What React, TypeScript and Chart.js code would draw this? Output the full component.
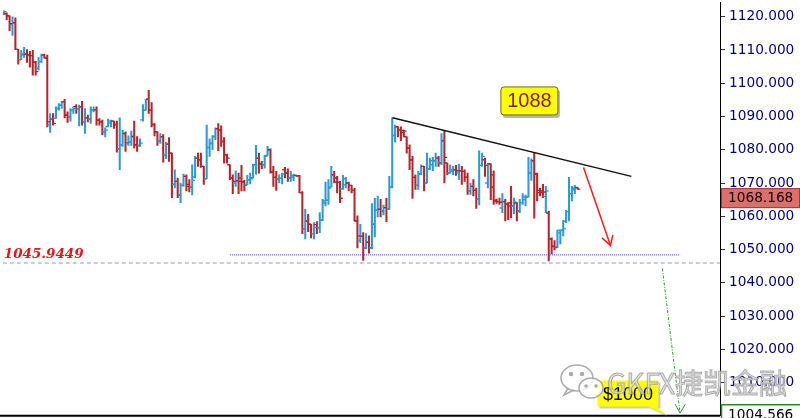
import React, { useEffect, useRef } from "react";
import { Chart, registerables } from "chart.js";

Chart.register(...registerables);

// ---- OHLC data (one bar per period) ----
const OPEN = [
  1120.9, 1120.9, 1120.3, 1117.6, 1118.2, 1110.2, 1107.1, 1108.5, 1108.8, 1108.5,
  1108.3, 1106.3, 1104.5, 1106.5, 1108.5, 1107.6, 1087.5, 1089.2, 1089.5, 1092.4,
  1093.4, 1094.4, 1090.4, 1089.9, 1091.9, 1093.0, 1092.2, 1092.9, 1088.4, 1089.6,
  1089.2, 1091.9, 1092.0, 1088.9, 1088.4, 1085.4, 1087.0, 1088.0, 1088.6, 1087.6,
  1080.3, 1081.5, 1084.9, 1081.8, 1082.3, 1084.0, 1081.5, 1081.3, 1089.0, 1091.9,
  1095.2, 1091.9, 1087.6, 1085.4, 1082.7, 1083.9, 1078.5, 1081.7, 1079.0, 1069.6,
  1070.5, 1066.4, 1069.3, 1072.0, 1069.6, 1068.9, 1071.8, 1077.5, 1077.0, 1075.0,
  1071.3, 1080.7, 1081.9, 1084.0, 1086.3, 1085.9, 1082.5, 1078.5, 1075.5, 1071.5,
  1070.0, 1070.7, 1071.5, 1070.3, 1069.5, 1071.0, 1071.6, 1075.5, 1077.5, 1075.7,
  1075.5, 1078.3, 1080.0, 1073.3, 1071.7, 1071.2, 1071.4, 1074.0, 1073.0, 1071.5,
  1071.8, 1072.3, 1072.2, 1067.1, 1056.1, 1058.6, 1057.6, 1054.8, 1057.5, 1056.6,
  1058.8, 1064.0, 1064.8, 1068.8, 1072.5, 1071.5, 1070.2, 1068.3, 1069.5, 1070.0,
  1069.3, 1067.8, 1058.6, 1052.8, 1054.0, 1050.5, 1052.2, 1050.5, 1057.6, 1061.8,
  1062.1, 1061.6, 1062.6, 1062.1, 1068.8, 1084.3, 1086.9, 1085.9, 1085.8, 1083.9,
  1080.5, 1077.0, 1071.7, 1069.3, 1072.7, 1075.0, 1070.0, 1074.3, 1075.5, 1076.7,
  1077.5, 1076.0, 1082.7, 1076.0, 1073.0, 1073.5, 1074.0, 1073.0, 1073.7, 1073.5,
  1071.7, 1067.6, 1069.0, 1067.8, 1065.1, 1075.3, 1077.0, 1070.0, 1075.7, 1072.5,
  1064.6, 1064.4, 1062.5, 1064.4, 1063.6, 1064.0, 1063.0, 1064.0, 1061.6, 1064.1,
  1065.0, 1065.8, 1073.0, 1076.7, 1072.7, 1067.8, 1067.6, 1066.0, 1061.0, 1053.2,
  1051.0, 1050.8, 1055.0, 1055.8, 1058.5, 1061.4, 1066.8, 1068.0, 1068.6,
];
const HIGH = [
  1121.8, 1121.2, 1120.3, 1120.0, 1119.7, 1110.2, 1109.9, 1110.8, 1110.1, 1109.6,
  1109.9, 1106.6, 1107.8, 1108.8, 1108.8, 1108.5, 1090.9, 1090.9, 1092.9, 1093.9,
  1094.6, 1095.2, 1091.4, 1092.4, 1092.9, 1093.6, 1093.4, 1094.6, 1092.4, 1090.4,
  1092.9, 1092.9, 1092.9, 1089.4, 1088.9, 1086.6, 1089.2, 1088.9, 1088.6, 1088.6,
  1089.6, 1085.9, 1085.4, 1084.2, 1085.6, 1088.6, 1084.0, 1083.3, 1093.6, 1095.2,
  1097.9, 1094.2, 1087.9, 1085.4, 1084.9, 1084.6, 1082.3, 1083.7, 1079.0, 1074.0,
  1071.5, 1070.0, 1072.7, 1072.5, 1071.0, 1075.5, 1078.0, 1079.0, 1079.0, 1075.0,
  1087.4, 1083.3, 1084.3, 1086.6, 1087.9, 1087.2, 1083.7, 1078.7, 1075.5, 1072.5,
  1073.7, 1073.0, 1075.3, 1070.8, 1072.3, 1073.0, 1075.7, 1081.3, 1079.0, 1076.5,
  1078.3, 1081.0, 1080.3, 1075.0, 1073.5, 1072.5, 1073.0, 1074.7, 1074.3, 1073.5,
  1072.7, 1072.3, 1072.3, 1067.4, 1062.1, 1060.6, 1057.6, 1058.1, 1058.4, 1061.1,
  1065.1, 1070.3, 1071.0, 1075.0, 1073.5, 1072.0, 1070.5, 1072.3, 1071.7, 1070.3,
  1069.3, 1068.4, 1060.1, 1057.6, 1055.1, 1054.8, 1054.1, 1063.8, 1065.4, 1066.1,
  1065.1, 1063.4, 1065.4, 1072.0, 1089.6, 1087.4, 1086.9, 1086.9, 1085.9, 1083.9,
  1081.5, 1078.0, 1072.5, 1073.5, 1075.5, 1075.0, 1079.0, 1077.5, 1077.7, 1079.0,
  1078.0, 1084.9, 1085.6, 1076.0, 1075.5, 1075.0, 1075.3, 1075.7, 1075.0, 1074.0,
  1073.0, 1070.0, 1071.0, 1068.5, 1079.7, 1079.0, 1077.5, 1076.0, 1075.8, 1073.7,
  1065.2, 1065.5, 1066.8, 1065.1, 1064.1, 1069.0, 1065.5, 1064.1, 1065.1, 1066.8,
  1066.4, 1077.7, 1077.3, 1078.9, 1073.0, 1068.5, 1069.6, 1069.0, 1061.6, 1053.5,
  1052.7, 1055.8, 1055.8, 1058.8, 1061.8, 1071.7, 1069.0, 1069.3, 1068.6,
];
const LOW = [
  1120.6, 1119.1, 1115.8, 1114.4, 1110.1, 1105.7, 1107.1, 1107.8, 1106.3, 1104.8,
  1102.4, 1102.4, 1103.9, 1106.3, 1107.6, 1086.9, 1085.2, 1087.4, 1089.4, 1091.9,
  1092.4, 1089.6, 1088.2, 1088.6, 1090.9, 1090.9, 1087.2, 1087.4, 1084.9, 1088.4,
  1087.9, 1091.4, 1087.4, 1087.4, 1084.5, 1083.9, 1086.9, 1086.9, 1086.4, 1079.3,
  1074.0, 1081.0, 1079.5, 1081.3, 1081.3, 1080.5, 1079.5, 1081.0, 1088.6, 1091.9,
  1090.9, 1086.9, 1084.2, 1081.3, 1081.9, 1076.3, 1077.3, 1076.5, 1065.6, 1068.5,
  1065.6, 1064.1, 1069.0, 1067.6, 1067.3, 1066.4, 1071.5, 1075.0, 1074.7, 1069.6,
  1071.3, 1078.0, 1080.0, 1083.0, 1079.7, 1081.0, 1076.0, 1076.0, 1071.0, 1066.8,
  1069.0, 1066.8, 1067.6, 1067.6, 1069.5, 1069.7, 1071.5, 1072.7, 1073.0, 1074.3,
  1074.5, 1078.3, 1073.0, 1069.0, 1067.8, 1070.0, 1069.7, 1071.5, 1070.5, 1070.5,
  1070.7, 1072.0, 1067.1, 1054.8, 1053.2, 1055.4, 1053.5, 1053.2, 1054.8, 1055.1,
  1058.6, 1063.1, 1063.6, 1068.8, 1070.0, 1067.0, 1064.1, 1068.1, 1068.5, 1067.6,
  1067.0, 1058.6, 1050.5, 1052.1, 1046.7, 1050.2, 1048.9, 1050.2, 1053.8, 1059.8,
  1059.8, 1060.4, 1058.4, 1062.1, 1068.5, 1082.3, 1083.9, 1082.7, 1083.9, 1079.0,
  1074.0, 1065.4, 1068.1, 1068.1, 1072.5, 1067.6, 1070.0, 1074.0, 1073.7, 1075.0,
  1075.0, 1075.5, 1070.0, 1072.5, 1073.0, 1072.5, 1072.3, 1071.0, 1069.6, 1070.5,
  1066.6, 1066.6, 1066.1, 1062.4, 1063.4, 1075.0, 1072.0, 1068.5, 1065.0, 1063.6,
  1063.9, 1063.6, 1061.1, 1058.6, 1059.0, 1059.5, 1060.7, 1058.6, 1061.1, 1063.6,
  1063.1, 1065.8, 1070.8, 1059.4, 1064.6, 1066.1, 1065.6, 1061.1, 1046.6, 1048.7,
  1049.9, 1050.6, 1051.7, 1054.1, 1058.1, 1058.6, 1064.6, 1066.8, 1068.1,
];
const CLOSE = [
  1121.5, 1120.3, 1117.9, 1118.2, 1110.2, 1107.1, 1108.8, 1108.8, 1108.5, 1108.3,
  1106.3, 1103.5, 1106.5, 1108.5, 1107.6, 1088.4, 1089.2, 1087.9, 1092.4, 1093.4,
  1094.4, 1090.4, 1089.9, 1091.9, 1092.4, 1092.2, 1092.9, 1088.4, 1089.6, 1089.2,
  1091.9, 1092.0, 1088.9, 1088.4, 1085.4, 1085.9, 1088.6, 1088.6, 1087.6, 1080.3,
  1081.5, 1084.9, 1082.0, 1082.3, 1084.0, 1081.5, 1081.3, 1082.0, 1091.9, 1095.2,
  1091.9, 1087.6, 1085.4, 1082.7, 1083.9, 1078.5, 1081.7, 1079.0, 1069.6, 1070.5,
  1066.4, 1069.3, 1072.0, 1069.0, 1068.9, 1070.8, 1077.5, 1077.0, 1075.0, 1071.3,
  1080.7, 1081.9, 1084.0, 1086.3, 1085.9, 1082.5, 1078.5, 1077.5, 1071.5, 1070.5,
  1070.7, 1070.5, 1070.3, 1069.3, 1071.0, 1071.3, 1075.5, 1077.5, 1075.7, 1075.5,
  1078.0, 1080.0, 1073.3, 1071.7, 1071.3, 1071.4, 1072.7, 1073.0, 1071.5, 1072.3,
  1072.3, 1072.2, 1067.1, 1056.1, 1058.6, 1057.6, 1054.8, 1056.6, 1056.6, 1058.8,
  1064.6, 1064.8, 1068.5, 1072.5, 1070.3, 1070.2, 1065.4, 1071.3, 1070.0, 1069.3,
  1067.8, 1058.6, 1054.1, 1054.0, 1050.5, 1052.2, 1050.5, 1057.6, 1061.8, 1062.1,
  1061.6, 1062.6, 1062.1, 1068.8, 1084.3, 1086.9, 1085.9, 1085.2, 1085.6, 1080.5,
  1077.0, 1071.7, 1069.3, 1072.7, 1075.0, 1070.0, 1074.3, 1076.7, 1076.7, 1077.5,
  1076.0, 1082.7, 1077.7, 1073.0, 1074.0, 1074.0, 1073.7, 1073.7, 1073.5, 1071.7,
  1067.6, 1069.0, 1067.8, 1065.1, 1075.3, 1078.0, 1075.3, 1075.7, 1068.8, 1064.8,
  1064.4, 1064.2, 1064.4, 1063.6, 1063.1, 1063.0, 1064.3, 1061.6, 1064.1, 1065.8,
  1065.8, 1073.0, 1076.7, 1072.7, 1067.1, 1067.1, 1067.3, 1067.6, 1053.2, 1050.9,
  1050.6, 1055.8, 1055.8, 1056.2, 1061.4, 1066.8, 1068.5, 1068.7, 1068.168,
];

// ---- axis ----
const Y_TICKS = [1010, 1020, 1030, 1040, 1050, 1060, 1070, 1080, 1090, 1100, 1110, 1120];
const Y_RANGE = [1000.19, 1124.19];
const X_RANGE = [-0.34, 247.08];

// ---- price labels / annotations (in data units) ----
const LAST_PRICE = 1068.168;
const BOTTOM_PRICE = 1004.566;
const LEVEL_PRICE = 1045.9449;
const SUPPORT_PRICE = 1048.4;
const SUPPORT_SPAN = [78, 233.3];
const TREND_X = [134.1, 216.5];
const TREND_Y = [1089.6, 1072.0];
const RED_ARROW_X = [200, 209.3];
const RED_ARROW_Y = [1074.7, 1051.2];
const RED_HEAD_X = [206.4, 209.3, 210.1];
const RED_HEAD_Y = [1053.5, 1051.2, 1054.4];
const GREEN_ARROW_X = [227.2, 233.3];
const GREEN_ARROW_Y = [1044.3, 1000.8];
const GREEN_HEAD_X = [231.6, 233.3, 235.1];
const GREEN_HEAD_Y = [1003.5, 1000.8, 1003.5];
const NOTE_1088 = { text: "1088", x: 171.5, y: 1098.9 };
const NOTE_1000 = { text: "$1000", x: 204.8, y: 1010.6 };
const WATERMARK = "GKFX捷凯金融";

const BLUE = "#2e9ad3";
const RED = "#b3262c";
const COLORS = CLOSE.map((c, i) => (c >= OPEN[i] ? BLUE : RED));

const pts = (xs: number[], ys: number[]) => xs.map((x, i) => ({ x, y: ys[i] }));

function roundRect(ctx: CanvasRenderingContext2D, x: number, y: number, w: number, h: number, r: number) {
  ctx.beginPath();
  ctx.moveTo(x + r, y);
  ctx.lineTo(x + w - r, y);
  ctx.quadraticCurveTo(x + w, y, x + w, y + r);
  ctx.lineTo(x + w, y + h - r);
  ctx.quadraticCurveTo(x + w, y + h, x + w - r, y + h);
  ctx.lineTo(x + r, y + h);
  ctx.quadraticCurveTo(x, y + h, x, y + h - r);
  ctx.lineTo(x, y + r);
  ctx.quadraticCurveTo(x, y, x + r, y);
  ctx.closePath();
}

const overlayPlugin = {
  id: "overlay",
  afterDraw(chart: any) {
    const { ctx, chartArea, scales } = chart;
    const xs = scales.x;
    const ys = scales.y;
    ctx.save();

    // bottom frame line
    ctx.strokeStyle = "#000";
    ctx.lineWidth = 2;
    ctx.beginPath();
    ctx.moveTo(0, chartArea.bottom + 0.5);
    ctx.lineTo(chartArea.right, chartArea.bottom + 0.5);
    ctx.stroke();

    // level label
    ctx.font = 'italic bold 13.5px "DejaVu Serif"';
    ctx.fillStyle = "#e8141c";
    ctx.textAlign = "left";
    ctx.textBaseline = "alphabetic";
    ctx.fillText(LEVEL_PRICE.toFixed(4), chartArea.left + 1, ys.getPixelForValue(LEVEL_PRICE) - 5);

    // "1088" note
    {
      const bx = xs.getPixelForValue(NOTE_1088.x);
      const by = ys.getPixelForValue(NOTE_1088.y);
      const w = 57, h = 28;
      ctx.fillStyle = "rgba(120,120,120,0.55)";
      roundRect(ctx, bx + 2, by + 3, w, h, 3);
      ctx.fill();
      ctx.fillStyle = "#ffff00";
      ctx.strokeStyle = "#6e6a00";
      ctx.lineWidth = 1;
      roundRect(ctx, bx, by, w, h, 3);
      ctx.fill();
      ctx.stroke();
      ctx.font = '20px "Liberation Sans"';
      ctx.fillStyle = "#8a1410";
      ctx.textAlign = "center";
      ctx.textBaseline = "middle";
      ctx.fillText(NOTE_1088.text, bx + w / 2, by + h / 2 + 1);
    }

    // "$1000" callout
    {
      const bx = xs.getPixelForValue(NOTE_1000.x);
      const by = ys.getPixelForValue(NOTE_1000.y);
      const w = 61, h = 26;
      const shape = (ox: number, oy: number) => {
        ctx.beginPath();
        ctx.moveTo(bx + ox, by + oy);
        ctx.lineTo(bx + w + ox, by + oy);
        ctx.lineTo(bx + w + ox, by + h + oy);
        ctx.lineTo(bx + w - 2 + ox, by + h + oy);
        ctx.lineTo(bx + w + 7 + ox, by + h + 8 + oy);
        ctx.lineTo(bx + w - 10 + ox, by + h + oy);
        ctx.lineTo(bx + ox, by + h + oy);
        ctx.closePath();
      };
      ctx.fillStyle = "rgba(150,150,150,0.5)";
      shape(2, 2);
      ctx.fill();
      ctx.fillStyle = "#ffff00";
      shape(0, 0);
      ctx.fill();
      ctx.font = '18px "Liberation Sans"';
      ctx.fillStyle = "#000";
      ctx.textAlign = "center";
      ctx.textBaseline = "middle";
      ctx.fillText(NOTE_1000.text, bx + w / 2, by + h / 2 + 1);
    }

    // current price label on the axis
    {
      const top = ys.getPixelForValue(LAST_PRICE) - 1;
      const left = chartArea.right + 1;
      ctx.fillStyle = "#d8706e";
      ctx.fillRect(left, top, 79, 20);
      ctx.strokeStyle = "#a83434";
      ctx.lineWidth = 1;
      ctx.strokeRect(left + 0.5, top + 0.5, 78, 19);
      ctx.font = '13.7px "DejaVu Sans"';
      ctx.fillStyle = "#1a0000";
      ctx.textAlign = "left";
      ctx.textBaseline = "middle";
      ctx.fillText(LAST_PRICE.toFixed(3), left + 7, top + 10.5);
    }

    // bottom price label
    {
      const top = chartArea.bottom - 11;
      const left = chartArea.right + 1;
      ctx.fillStyle = "#fff";
      ctx.fillRect(left, top, 79, 20);
      ctx.strokeStyle = "#2d8a2d";
      ctx.lineWidth = 1.5;
      ctx.beginPath();
      ctx.moveTo(left + 0.5, top + 20);
      ctx.lineTo(left + 0.5, top + 0.5);
      ctx.lineTo(left + 79, top + 0.5);
      ctx.stroke();
      ctx.font = '13.7px "DejaVu Sans"';
      ctx.fillStyle = "#000";
      ctx.textAlign = "left";
      ctx.textBaseline = "top";
      ctx.fillText(BOTTOM_PRICE.toFixed(3), left + 7, top + 4);
    }

    // watermark
    {
      const cx = chart.width - 223;
      const cy = chart.height - 40;
      ctx.lineWidth = 1.6;
      ctx.strokeStyle = "rgba(160,160,160,0.85)";
      ctx.fillStyle = "rgba(255,255,255,0.8)";
      ctx.beginPath();
      ctx.ellipse(cx, cy, 16, 13, 0, 0, Math.PI * 2);
      ctx.fill();
      ctx.stroke();
      ctx.beginPath();
      ctx.moveTo(cx - 9, cy + 10);
      ctx.lineTo(cx - 13, cy + 17);
      ctx.lineTo(cx - 3, cy + 12);
      ctx.stroke();
      ctx.beginPath();
      ctx.ellipse(cx + 14, cy + 10, 12, 10, 0, 0, Math.PI * 2);
      ctx.fill();
      ctx.stroke();
      ctx.fillStyle = "rgba(160,160,160,0.9)";
      [[cx - 6, cy - 4, 2.2], [cx + 5, cy - 4, 2.2], [cx + 9, cy + 8, 1.8], [cx + 19, cy + 8, 1.8]].forEach(([px, py, r]) => {
        ctx.beginPath();
        ctx.arc(px, py, r, 0, Math.PI * 2);
        ctx.fill();
      });
      ctx.font = '28px "Noto Sans CJK SC"';
      ctx.textAlign = "left";
      ctx.textBaseline = "alphabetic";
      ctx.fillStyle = "rgba(222,222,222,0.85)";
      ctx.strokeStyle = "rgba(150,150,150,0.75)";
      ctx.lineWidth = 1;
      ctx.fillText(WATERMARK, cx + 30, cy + 16);
      ctx.strokeText(WATERMARK, cx + 30, cy + 16);
    }

    ctx.restore();
  },
};

export default function App() {
  const ref = useRef<HTMLCanvasElement | null>(null);

  useEffect(() => {
    document.body.style.margin = "0";
    if (!ref.current) return;

    const lineDs = (data: any[], color: string, width: number, dash: number[] = []) => ({
      type: "line" as const,
      data,
      borderColor: color,
      borderWidth: width,
      borderDash: dash,
      pointRadius: 0,
      tension: 0,
      fill: false,
      order: 0,
    });

    const chart = new Chart(ref.current, {
      type: "bar",
      data: {
        datasets: [
          lineDs(pts(TREND_X, TREND_Y), "#111", 1.5),
          lineDs(pts(RED_ARROW_X, RED_ARROW_Y), "#ff1a1a", 1.5),
          lineDs(pts(RED_HEAD_X, RED_HEAD_Y), "#ff1a1a", 1.5),
          lineDs(pts(GREEN_ARROW_X, GREEN_ARROW_Y), "#2f9a2f", 1, [3, 1.5, 1, 1.5]),
          lineDs(pts(GREEN_HEAD_X, GREEN_HEAD_Y), "#2f9a2f", 1),
          lineDs(pts(SUPPORT_SPAN, [SUPPORT_PRICE, SUPPORT_PRICE]), "#3a3aff", 1, [1, 1]),
          lineDs(pts(X_RANGE, [LEVEL_PRICE, LEVEL_PRICE]), "#8c9db3", 1, [4, 3]),
          {
            type: "line" as const,
            data: OPEN.map((o, i) => ({ x: i - 0.47, y: o })),
            showLine: false,
            pointStyle: "line",
            pointRadius: 1.4,
            pointHoverRadius: 1.4,
            pointBorderWidth: 1.4,
            pointBorderColor: COLORS,
            pointBackgroundColor: COLORS,
            order: 5,
          },
          {
            type: "line" as const,
            data: CLOSE.map((c, i) => ({ x: i + 0.47, y: c })),
            showLine: false,
            pointStyle: "line",
            pointRadius: 1.4,
            pointHoverRadius: 1.4,
            pointBorderWidth: 1.4,
            pointBorderColor: COLORS,
            pointBackgroundColor: COLORS,
            order: 5,
          },
          {
            type: "bar" as const,
            data: LOW.map((l, i) => ({ x: i, y: [l, HIGH[i]] })) as any,
            backgroundColor: COLORS,
            borderWidth: 0,
            barThickness: 1.4,
            grouped: false,
            order: 6,
          },
        ] as any,
      },
      options: {
        animation: false,
        responsive: true,
        maintainAspectRatio: false,
        events: [],
        layout: { padding: { top: 0, left: 0, right: 0, bottom: 2 } },
        plugins: { legend: { display: false }, tooltip: { enabled: false } },
        scales: {
          x: {
            type: "linear",
            min: X_RANGE[0],
            max: X_RANGE[1],
            offset: false,
            display: false,
            grid: { display: false },
          },
          y: {
            type: "linear",
            position: "right",
            min: Y_RANGE[0],
            max: Y_RANGE[1],
            afterBuildTicks: (s: any) => {
              s.ticks = Y_TICKS.map((v) => ({ value: v }));
            },
            afterFit: (s: any) => {
              s.width = 80;
              s.paddingTop = 0;
              s.paddingBottom = 0;
            },
            ticks: {
              color: "#000080",
              font: { family: '"DejaVu Sans"', size: 13.7 },
              padding: 4,
              callback: (v: any) => Number(v).toFixed(3),
            },
            grid: { drawOnChartArea: false, drawTicks: true, tickLength: 5, color: "#333" },
            border: { display: true, color: "#000", width: 1 },
          },
        },
      } as any,
      plugins: [overlayPlugin],
    });

    return () => chart.destroy();
  }, []);

  return (
    <div style={{ width: 800, height: 418, position: "relative", background: "#fff" }}>
      <canvas ref={ref} />
    </div>
  );
}
